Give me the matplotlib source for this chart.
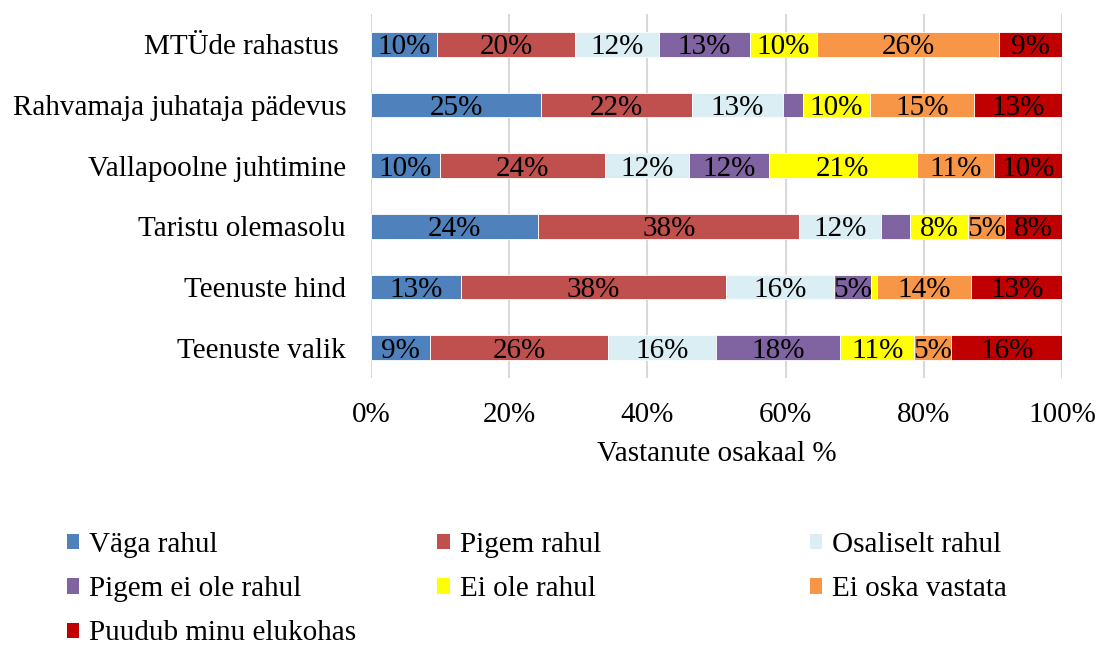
import numpy as np
import matplotlib.pyplot as plt
from matplotlib.patches import Patch

plt.rcParams['font.family'] = ['Liberation Serif', 'DejaVu Serif']

# categories, top to bottom
categories = ['MTÜde rahastus ', 'Rahvamaja juhataja pädevus', 'Vallapoolne juhtimine',
              'Taristu olemasolu', 'Teenuste hind', 'Teenuste valik']

series = ['Väga rahul', 'Pigem rahul', 'Osaliselt rahul', 'Pigem ei ole rahul',
          'Ei ole rahul', 'Ei oska vastata', 'Puudub minu elukohas']

# shares in %, one list per series
vaga_rahul = [9.6, 24.6, 10.0, 24.2, 13.0, 8.6]
pigem_rahul = [19.9, 21.8, 23.8, 37.8, 38.4, 25.7]
osaliselt = [12.2, 13.2, 12.2, 11.8, 15.6, 15.6]
pigem_ei_ole = [13.1, 2.9, 11.6, 4.2, 5.3, 18.0]
ei_ole = [9.8, 9.7, 21.4, 8.4, 0.9, 10.7]
ei_oska = [26.3, 15.1, 11.2, 5.4, 13.7, 5.4]
puudub = [9.2, 12.7, 9.8, 8.2, 13.1, 16.0]

colors = ['#4F81BD', '#C0504D', '#DAEEF3', '#8064A2', '#FFFF00', '#F79646', '#C00000']

values = [vaga_rahul, pigem_rahul, osaliselt, pigem_ei_ole, ei_ole, ei_oska, puudub]

fig = plt.figure(figsize=(10.99, 6.46), dpi=100)
ax = fig.add_axes([0.3376, 0.4149, 0.6287, 0.5634])

fs = 21
y = np.arange(len(categories))
left = np.zeros(len(categories))
for name, vals, col in zip(series, values, colors):
    vals = np.array(vals)
    bars = ax.barh(y, vals, left=left, height=0.41, color=col,
                   edgecolor='white', linewidth=0.6, label=name, zorder=3)
    labels = ['%d%%' % round(v) if v >= 5 else '' for v in vals]
    texts = ax.bar_label(bars, labels=labels, label_type='center', fontsize=fs, color='black')
    for t in texts:
        t.set_va('center_baseline')
    left += vals

ax.set_xlim(0, 100)
ax.set_ylim(len(categories) - 0.5, -0.5)
ax.set_yticks(y)
ax.set_yticklabels(categories, fontsize=fs)
ax.set_xticks(np.arange(0, 101, 20))
ax.set_xticklabels(['%d%%' % t for t in range(0, 101, 20)], fontsize=fs)
ax.tick_params(axis='both', length=0)
ax.tick_params(axis='y', pad=18)
ax.tick_params(axis='x', pad=17)
ax.grid(axis='x', color='#D9D9D9', linewidth=1.5, zorder=0)
for s in ax.spines.values():
    s.set_visible(False)
ax.set_xlabel('Vastanute osakaal %', fontsize=fs, labelpad=10)

# legend in three columns, filled row by row
handles = [Patch(facecolor=c, edgecolor='none') for c in colors]
col_x = [0.061, 0.398, 0.737]
groups = [[0, 3, 6], [1, 4], [2, 5]]
for x, g in zip(col_x, groups):
    fig.legend([handles[i] for i in g], [series[i] for i in g],
               loc='upper left', bbox_to_anchor=(x, 0.176), frameon=False,
               fontsize=fs, handlelength=0.42, handleheight=0.42,
               handletextpad=0.35, labelspacing=0.62, borderpad=0, borderaxespad=0)

fig.savefig('out.png', dpi=100)
